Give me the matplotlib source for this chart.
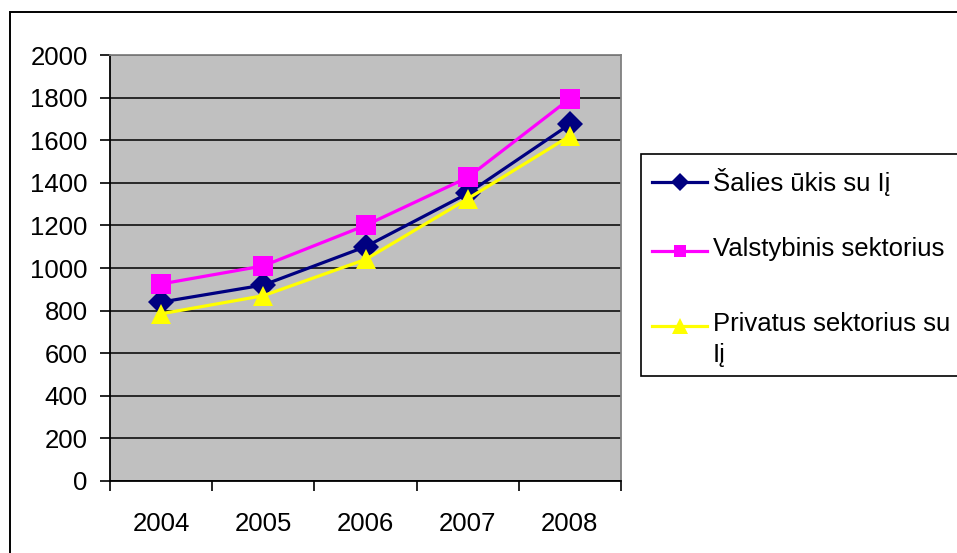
import matplotlib
matplotlib.use("Agg")
import matplotlib.pyplot as plt
from matplotlib.patches import Rectangle
from matplotlib.lines import Line2D
import numpy as np

plt.rcParams['font.family'] = ['Liberation Sans', 'DejaVu Sans']

years = ["2004", "2005", "2006", "2007", "2008"]
salies_ukis = [840, 920, 1100, 1350, 1675]
valstybinis = [925, 1010, 1200, 1425, 1795]
privatus = [785, 870, 1040, 1325, 1620]
series_names = ["Šalies ūkis su Iį", "Valstybinis sektorius", "Privatus sektorius su\nIį"]
y_ticks = [0, 200, 400, 600, 800, 1000, 1200, 1400, 1600, 1800, 2000]

W, H = 957, 553
DPI = 100
FS = 18.5
fig = plt.figure(figsize=(W / DPI, H / DPI), dpi=DPI)
fig.patch.set_facecolor('white')

def fx(px):
    return px / W

def fy(py):
    return 1 - py / H

ax = fig.add_axes([fx(110), fy(481), fx(621) - fx(110), fy(55) - fy(481)])
ax.set_facecolor('#C0C0C0')

x = np.arange(len(years))
styles = [
    dict(color='#000080', marker='D', markersize=13, label=series_names[0]),
    dict(color='#FF00FF', marker='s', markersize=14.5, label=series_names[1]),
    dict(color='#FFFF00', marker='^', markersize=15, label=series_names[2]),
]
legend_ms = [9.5, 9, 11]
data = [salies_ukis, valstybinis, privatus]
for vals, st in zip(data, styles):
    ax.plot(x, vals, linewidth=2.3, markeredgewidth=0, zorder=3, **st)

ax.set_xlim(-0.5, len(years) - 0.5)
ax.set_ylim(0, 2000)
ax.set_yticks(y_ticks)
ax.set_yticklabels([str(v) for v in y_ticks])
ax.yaxis.grid(True, color='black', linewidth=1.1)
ax.set_axisbelow(True)

ax.set_xticks(np.arange(-0.5, len(years), 1.0))
ax.set_xticklabels([])
ax.set_xticks(x, minor=True)
ax.set_xticklabels(years, minor=True)
ax.tick_params(axis='x', which='major', length=7, width=1.2, direction='out', color='black')
ax.tick_params(axis='x', which='minor', length=0, pad=22, labelsize=FS)
ax.tick_params(axis='y', length=7, width=1.2, direction='out', pad=9, labelsize=FS)

for s in ['left', 'bottom']:
    ax.spines[s].set_color('black')
    ax.spines[s].set_linewidth(1.3)
for s in ['top', 'right']:
    ax.spines[s].set_color('#808080')
    ax.spines[s].set_linewidth(1.3)

# outer chart border
fig.patches.append(Rectangle((fx(9.5), fy(560)), fx(960) - fx(9.5), fy(12) - fy(560),
                             transform=fig.transFigure, fill=False, edgecolor='black',
                             linewidth=1.4, clip_on=False))

# legend
fig.patches.append(Rectangle((fx(641), fy(376)), fx(960) - fx(641), fy(154) - fy(376),
                             transform=fig.transFigure, fill=True, facecolor='white',
                             edgecolor='black', linewidth=1.2, clip_on=False))
leg_y = [182, 251, 326]
for st, ly, ms in zip(styles, leg_y, legend_ms):
    fig.lines.append(Line2D([fx(652), fx(707)], [fy(ly), fy(ly)], transform=fig.transFigure,
                            color=st['color'], linewidth=2.3))
    fig.lines.append(Line2D([fx(680)], [fy(ly)], transform=fig.transFigure,
                            color=st['color'], marker=st['marker'], markersize=ms,
                            markeredgewidth=0, linestyle='none'))

for ly, name in zip(leg_y, series_names):
    fig.text(fx(713), fy(ly - 14), name, fontsize=FS, va='top', ha='left',
             linespacing=1.35)

fig.savefig('out.png', dpi=DPI)
